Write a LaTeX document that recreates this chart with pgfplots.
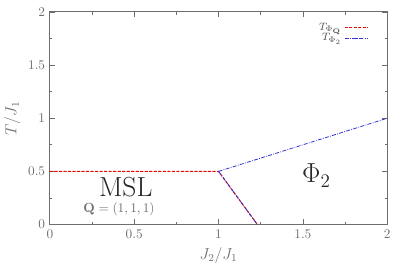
\documentclass[border=0pt]{standalone}
\usepackage{pgfplots}
\pgfplotsset{compat=1.18}
\definecolor{axgray}{RGB}{110,110,110}
\definecolor{lred}{RGB}{225,10,10}
\definecolor{lblue}{RGB}{50,50,210}
\begin{document}
\begin{tikzpicture}
\begin{axis}[
  scale only axis,
  width=254pt, height=160pt,
  xmin=0, xmax=2, ymin=0, ymax=2,
  xtick={0,0.5,1,1.5,2}, ytick={0,0.5,1,1.5,2},
  xticklabels={0,0.5,1,1.5,2}, yticklabels={0,0.5,1,1.5,2},
  minor tick num=1,
  tick align=inside,
  major tick length=4pt, minor tick length=2pt,
  axis line style={axgray, line width=0.8pt},
  tick style={axgray, line width=0.6pt},
  ticklabel style={text=axgray},
  xlabel={$J_2/J_1$}, ylabel={$T/J_1$},
  label style={text=axgray, font=\large},
  xlabel style={yshift=0pt},
  ylabel style={yshift=-1pt},
  legend style={draw=none, fill=none, font=\footnotesize, at={(0.955,0.975)}, anchor=north east, row sep=-3pt, text=black!70},
  legend cell align=right,
  legend plot pos=right,
  clip=false,
]
\addplot[lred, dash pattern=on 2.4pt off 1pt, line width=0.8pt] coordinates {(0,0.5) (1,0.5) (1.23,0)};
\addlegendentry{$T_{\Phi_{\mathbf{Q}}}$}
\addplot[lblue, dash pattern=on 3pt off 1pt on 0.6pt off 1pt, line width=0.6pt, forget plot] coordinates {(1,0.5) (1.23,0)};
\addplot[lblue, dash pattern=on 3pt off 1pt on 0.6pt off 1pt, line width=0.6pt] coordinates {(1,0.5) (2,1)};
\addlegendentry{$T_{\Phi_2}$}
\node[text=black!85, font=\huge] at (axis cs:0.45,0.35) {MSL};
\node[text=axgray, font=\normalsize] at (axis cs:0.41,0.14) {$\mathbf{Q}=(1,1,1)$};
\node[text=black!85, font=\huge] at (axis cs:1.58,0.46) {$\Phi_2$};
\path (rel axis cs:0,1) ++(0,9pt) coordinate (topspace);
\end{axis}
\end{tikzpicture}
\end{document}
